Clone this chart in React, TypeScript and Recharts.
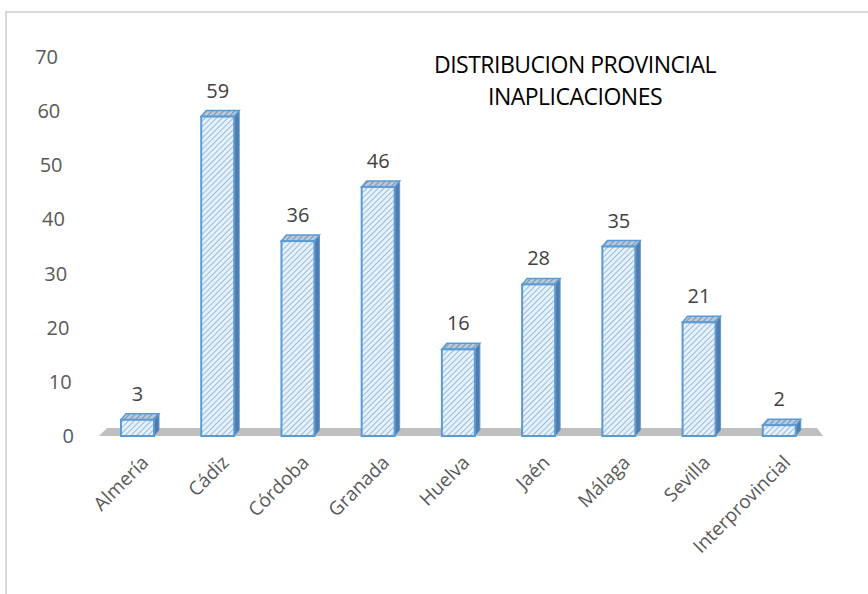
import { BarChart, Bar, XAxis, YAxis, LabelList, ReferenceArea } from "recharts";

const categories = [
  "Almería",
  "Cádiz",
  "Córdoba",
  "Granada",
  "Huelva",
  "Jaén",
  "Málaga",
  "Sevilla",
  "Interprovincial",
];
const values = [3, 59, 36, 46, 16, 28, 35, 21, 2];
const yTicks = [0, 10, 20, 30, 40, 50, 60, 70];
const titleLines = ["DISTRIBUCION PROVINCIAL", "INAPLICACIONES"];

const data = categories.map((name, i) => ({ name, value: values[i] }));

const FONT = "'Open Sans', 'Noto Sans', sans-serif";
const DX = 5;
const DY = -6;

// 3D-ish column: front face, top face and right side
function Column(props: any) {
  const { x, y, width, height } = props;
  if (height == null || height <= 0) return null;
  const side = `${x + width},${y} ${x + width + DX},${y + DY} ${x + width + DX},${y + height + DY} ${x + width},${y + height}`;
  const top = `${x},${y} ${x + DX},${y + DY} ${x + width + DX},${y + DY} ${x + width},${y}`;
  return (
    <g>
      <polygon points={side} fill="#4f7cae" stroke="#5b9bd5" strokeWidth={1} />
      <polygon points={top} fill="url(#topHatch)" stroke="#5b9bd5" strokeWidth={1.5} />
      <rect x={x} y={y} width={width} height={height} fill="url(#frontHatch)" stroke="#5b9bd5" strokeWidth={2} />
    </g>
  );
}

function Floor(props: any) {
  const { x, y, width, height } = props;
  const pts = `${x + 2},${y + height} ${x + width + 4},${y + height} ${x + width - 2},${y} ${x + 10},${y}`;
  return <polygon points={pts} fill="#bfbfbf" />;
}

function YTick(props: any) {
  const { y, payload } = props;
  // the value axis leans a little, as in the perspective view
  const right = 58 + ((y - 57) / 379) * 16;
  return (
    <text x={right} y={y} dy="0.35em" textAnchor="end" fontSize={20} fill="#595959" fontFamily={FONT}>
      {payload.value}
    </text>
  );
}

function XTick(props: any) {
  const { x, y, payload } = props;
  return (
    <g transform={`translate(${x + 8},${y + 15}) rotate(-45)`}>
      <text x={0} y={0} dy="0.35em" textAnchor="end" fontSize={19} fill="#595959" fontFamily={FONT}>
        {payload.value}
      </text>
    </g>
  );
}

export default function App() {
  return (
    <div
      style={{
        position: "absolute",
        left: 0,
        top: 0,
        width: 868,
        height: 594,
        overflow: "hidden",
        background: "#fff",
      }}
    >
      <svg width={0} height={0} style={{ position: "absolute" }}>
        <defs>
          <pattern id="frontHatch" patternUnits="userSpaceOnUse" width={4} height={4} patternTransform="rotate(45)">
            <rect width={4} height={4} fill="#e8f1fa" />
            <line x1={0} y1={0} x2={0} y2={4} stroke="#7eaedc" strokeWidth={1.6} />
          </pattern>
          <pattern id="topHatch" patternUnits="userSpaceOnUse" width={4} height={4} patternTransform="rotate(45)">
            <rect width={4} height={4} fill="#b7c9dc" />
            <line x1={0} y1={0} x2={0} y2={4} stroke="#6b829b" strokeWidth={1.6} />
          </pattern>
        </defs>
      </svg>
      <div
        style={{
          position: "absolute",
          left: 5,
          top: 11,
          width: 1000,
          height: 1000,
          border: "2px solid #d9d9d9",
        }}
      />
      <div
        style={{
          position: "absolute",
          left: 375,
          top: 48,
          width: 400,
          textAlign: "center",
          fontFamily: FONT,
          fontSize: 23,
          lineHeight: "32px",
          letterSpacing: -0.5,
          color: "#000",
        }}
      >
        {titleLines.map((t) => (
          <div key={t}>{t}</div>
        ))}
      </div>
      <div style={{ position: "absolute", left: 0, top: 0 }}>
        <BarChart
          width={868}
          height={594}
          data={data}
          margin={{ top: 57, right: 49, left: 0, bottom: 0 }}
          barSize={33}
        >
          <XAxis
            dataKey="name"
            axisLine={false}
            tickLine={false}
            height={158}
            interval={0}
            tick={<XTick />}
          />
          <YAxis
            domain={[0, 70]}
            ticks={yTicks}
            axisLine={false}
            tickLine={false}
            width={97}
            tick={<YTick />}
          />
          <ReferenceArea y1={0} y2={1.5} shape={<Floor />} />
          <Bar dataKey="value" shape={<Column />} isAnimationActive={false}>
            <LabelList
              dataKey="value"
              position="top"
              offset={19}
              fontSize={20}
              fill="#404040"
              fontFamily={FONT}
            />
          </Bar>
        </BarChart>
      </div>
    </div>
  );
}
